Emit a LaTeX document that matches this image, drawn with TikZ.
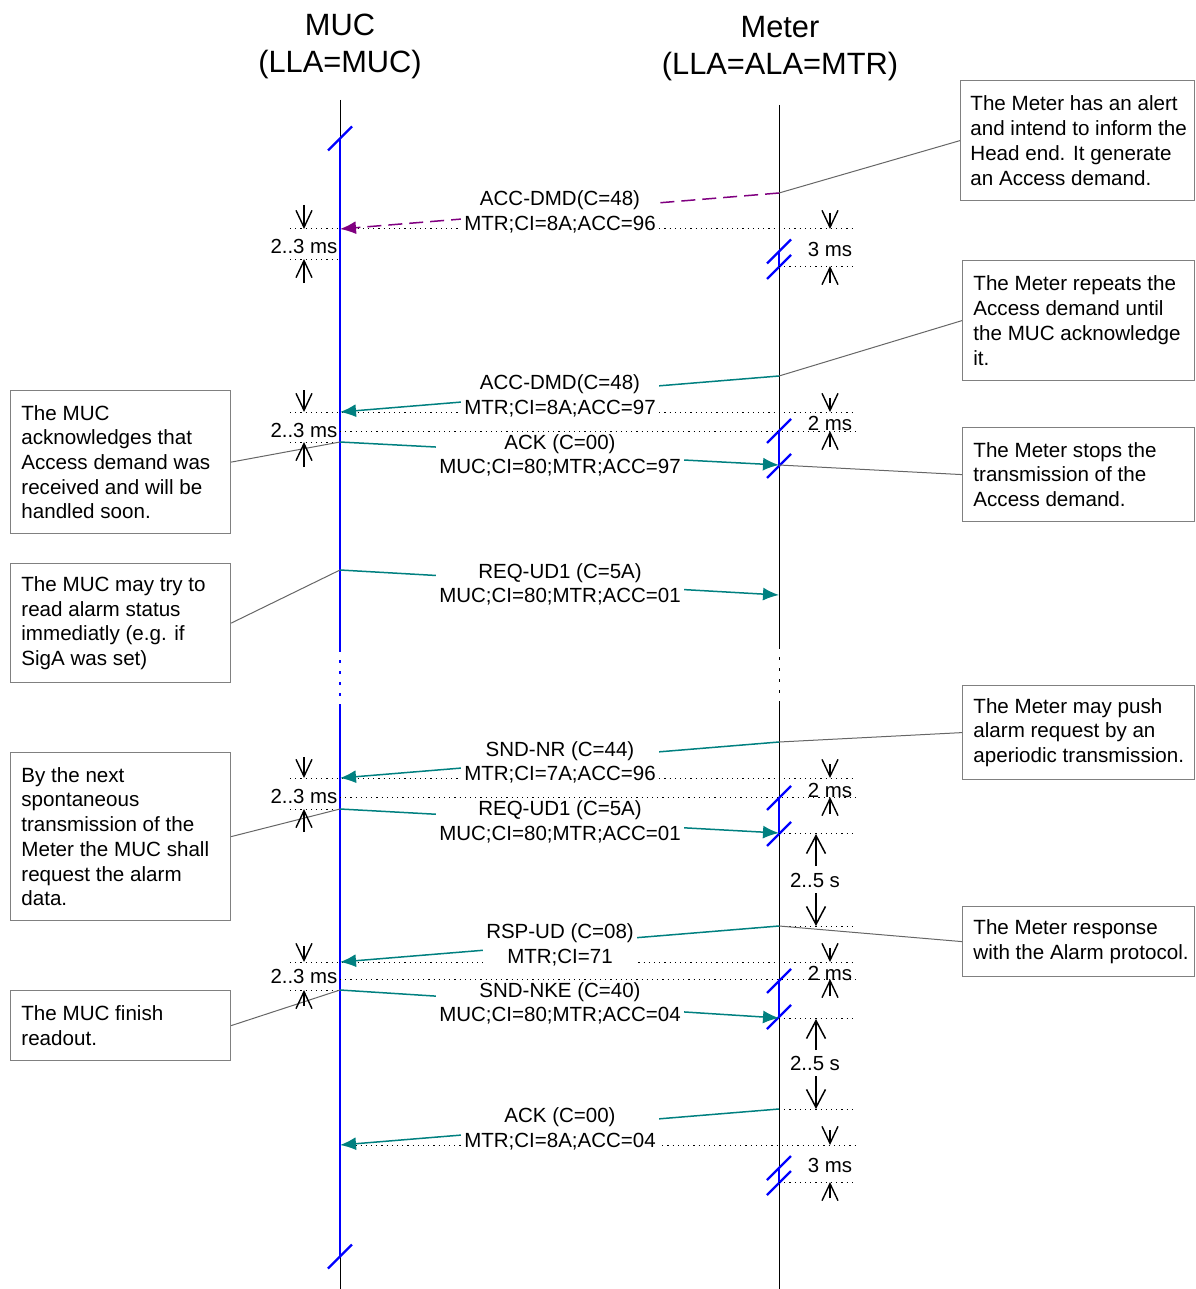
\documentclass[tikz,border=0pt]{standalone}
\usepackage{fontspec}
\setmainfont{Liberation Sans}
\usetikzlibrary{arrows.meta}
\definecolor{tealc}{RGB}{0,128,128}
\definecolor{purpc}{RGB}{128,0,128}
\definecolor{lblue}{RGB}{0,0,255}
\definecolor{notegray}{RGB}{128,128,128}
\begin{document}
\begin{tikzpicture}[x=0.5pt,y=-0.5pt,
 life/.style={line width=0.5pt, black},
 active/.style={line width=1.1pt, lblue},
 slashline/.style={line width=1.1pt, lblue},
 msg/.style={line width=0.75pt, tealc, -{Latex[length=8pt,width=6.5pt]}},
 dmsg/.style={line width=0.75pt, purpc, dash pattern=on 7pt off 3.5pt, -{Latex[length=8pt,width=6.5pt]}},
 lab/.style={fill=white, align=center, inner xsep=1.5pt, inner ysep=1pt, font=\fontsize{10.25}{12.2}\selectfont},
 guide/.style={line width=0.5pt, dash pattern=on 0.6pt off 2pt},
 dimarrow/.style={line width=0.7pt, -{Straight Barb[length=8.5pt,width=8pt]}},
 bigdim/.style={line width=0.75pt, -{Straight Barb[length=9pt,width=9.5pt]}},
 dimlab/.style={font=\fontsize{10.2}{12}\selectfont, inner sep=0.5pt},
 notebox/.style={draw=notegray, line width=0.6pt, fill=white, inner sep=0pt, anchor=north west},
 notetext/.style={align=left, font=\fontsize{10.3}{12.35}\selectfont, inner sep=0pt, anchor=west},
 noteline/.style={line width=0.5pt, black!60},
 titlenode/.style={align=center, font=\fontsize{15.4}{18.5}\selectfont}
]
\useasboundingbox (0,0) rectangle (1195,1289);

% titles
\node[titlenode] (tmuc) at (340,46.5) {MUC\\(LLA=MUC)};
\node[titlenode] (tmeter) at (780,49) {Meter\\(LLA=ALA=MTR)};

% lifelines
\coordinate (mucA) at (340,100);
\coordinate (mucB) at (340,139);
\coordinate (mucC) at (340,652);
\coordinate (mucD) at (340,706);
\coordinate (mucE) at (340,1257);
\coordinate (mucF) at (340,1289);
\draw[life] (mucA) -- (mucB);
\draw[life] (mucE) -- (mucF);
\draw[active] (mucB) -- (mucC);
\draw[active, dash pattern=on 1.5pt off 4pt, dash phase=-4pt] (mucC) -- (mucD);
\draw[active] (mucD) -- (mucE);

\coordinate (mtrA) at (779,105);
\coordinate (mtrB) at (779,649);
\coordinate (mtrC) at (779,703);
\coordinate (mtrD) at (779,1289);
\draw[life] (mtrA) -- (mtrB);
\draw[life, dash pattern=on 1.5pt off 4pt, dash phase=-4pt] (mtrB) -- (mtrC);
\draw[life] (mtrC) -- (mtrD);

% blue active segments on Meter
\draw[active] (779,252) -- (779,267);
\draw[active] (779,431) -- (779,465);
\draw[active] (779,797) -- (779,833);
\draw[active] (779,979) -- (779,1018);
\draw[active] (779,1168) -- (779,1182);

% slashes
\foreach \x/\y in {340/138.5, 340/1256.5, 779/251.5, 779/267, 779/431, 779/466, 779/798, 779/834, 779/981, 779/1017, 779/1168, 779/1183}
  \draw[slashline] ({\x-12},{\y+12}) -- ({\x+12},{\y-12});

% guide (dotted) lines
\draw[guide] (290,229) -- (855,229);
\draw[guide] (290,259) -- (340,259);
\draw[guide] (779,266) -- (855,266);

\draw[guide] (290,412) -- (855,412);
\draw[guide] (340,431) -- (855,431);
\draw[guide] (290,442) -- (340,442);

\draw[guide] (290,778) -- (855,778);
\draw[guide] (340,797) -- (855,797);
\draw[guide] (290,809) -- (340,809);
\draw[guide] (779,833) -- (855,833);
\draw[guide] (779,926) -- (855,926);

\draw[guide] (290,962) -- (855,962);
\draw[guide] (340,979) -- (855,979);
\draw[guide] (290,990) -- (340,990);
\draw[guide] (779,1018) -- (855,1018);
\draw[guide] (779,1109) -- (855,1109);

\draw[guide] (345,1145) -- (855,1145);
\draw[guide] (779,1182) -- (855,1182);

% message end points
\coordinate (m1s) at (779,193);  \coordinate (m1e) at (340,229);
\coordinate (m2s) at (779,376);  \coordinate (m2e) at (340,412);
\coordinate (m3s) at (340,442);  \coordinate (m3e) at (779,465);
\coordinate (m4s) at (340,570);  \coordinate (m4e) at (779,595);
\coordinate (m5s) at (779,742);  \coordinate (m5e) at (340,778);
\coordinate (m6s) at (340,809);  \coordinate (m6e) at (779,833);
\coordinate (m7s) at (779,926);  \coordinate (m7e) at (340,962);
\coordinate (m8s) at (340,990);  \coordinate (m8e) at (779,1018);
\coordinate (m9s) at (779,1109); \coordinate (m9e) at (340,1145);

% note boxes
\node[notebox, minimum width=117pt, minimum height=60pt] (n1) at (960,80) {};
\node[notetext] at ([xshift=5pt]n1.west) {The Meter has an alert\\and intend to inform the\\Head end. It generate\\an Access demand.};
\node[notebox, minimum width=116pt, minimum height=60pt] (n2) at (962,260) {};
\node[notetext] at ([xshift=5.5pt]n2.west) {The Meter repeats the\\Access demand until\\the MUC acknowledge\\it.};
\node[notebox, minimum width=116pt, minimum height=47pt] (n3) at (962,427) {};
\node[notetext] at ([xshift=5.5pt]n3.west) {The Meter stops the\\transmission of the\\Access demand.};
\node[notebox, minimum width=116pt, minimum height=47pt] (n4) at (962,685) {};
\node[notetext] at ([xshift=5.5pt]n4.west) {The Meter may push\\alarm request by an\\aperiodic transmission.};
\node[notebox, minimum width=116pt, minimum height=35pt] (n5) at (962,906) {};
\node[notetext] at ([xshift=5.5pt]n5.west) {The Meter response\\with the Alarm protocol.};

\node[notebox, minimum width=110pt, minimum height=71.5pt] (L1) at (10,390) {};
\node[notetext] at ([xshift=5.5pt]L1.west) {The MUC\\acknowledges that\\Access demand was\\received and will be\\handled soon.};
\node[notebox, minimum width=110pt, minimum height=59.5pt] (L2) at (10,563) {};
\node[notetext] at ([xshift=5.5pt]L2.west) {The MUC may try to\\read alarm status\\immediatly (e.g. if\\SigA was set)};
\node[notebox, minimum width=110pt, minimum height=84pt] (L3) at (10,752) {};
\node[notetext] at ([xshift=5.5pt]L3.west) {By the next\\spontaneous\\transmission of the\\Meter the MUC shall\\request the alarm\\data.};
\node[notebox, minimum width=110pt, minimum height=35pt] (L4) at (10,990) {};
\node[notetext] at ([xshift=5.5pt]L4.west) {The MUC finish\\readout.};

% note connectors
\draw[noteline] (m1s) -- (n1.west);
\draw[noteline] (m2s) -- (n2.west);
\draw[noteline] (m3e) -- (n3.west);
\draw[noteline] (m5s) -- (n4.west);
\draw[noteline] (m7s) -- (n5.west);
\draw[noteline] (m3s) -- (L1.east);
\draw[noteline] (m4s) -- (L2.east);
\draw[noteline] (m6s) -- (L3.east);
\draw[noteline] (m8s) -- (L4.east);

% messages
\draw[dmsg] (m1s) -- (m1e);
\draw[msg] (m2s) -- (m2e);
\draw[msg] (m3s) -- (m3e);
\draw[msg] (m4s) -- (m4e);
\draw[msg] (m5s) -- (m5e);
\draw[msg] (m6s) -- (m6e);
\draw[msg] (m7s) -- (m7e);
\draw[msg] (m8s) -- (m8e);
\draw[msg] (m9s) -- (m9e);

% message labels
\node[lab] (l1) at (560,212) {ACC-DMD(C=48)\\MTR;CI=8A;ACC=96};
\node[lab] (l2) at (560,396) {ACC-DMD(C=48)\\MTR;CI=8A;ACC=97};
\node[lab] (l3) at (560,455.5) {ACK (C=00)\\MUC;CI=80;MTR;ACC=97};
\node[lab] (l4) at (560,584.5) {REQ-UD1 (C=5A)\\MUC;CI=80;MTR;ACC=01};
\node[lab] (l5) at (560,762.5) {SND-NR (C=44)\\MTR;CI=7A;ACC=96};
\node[lab] (l6) at (560,822) {REQ-UD1 (C=5A)\\MUC;CI=80;MTR;ACC=01};
\node[lab] (l7) at (560,945) {RSP-UD (C=08)\\MTR;CI=71};
\node[lab] (l8) at (560,1003.5) {SND-NKE (C=40)\\MUC;CI=80;MTR;ACC=04};
\node[lab] (l9) at (560,1129) {ACK (C=00)\\MTR;CI=8A;ACC=04};

% left dimensions 2..3 ms
\foreach \ta/\tb/\ly/\ba/\bb in {205/229/246/283/259, 390/412/430/467/442, 757/778/796/832/809, 946/962/976/1006/990}{
  \draw[dimarrow] (304,\ta) -- (304,\tb);
  \draw[dimarrow] (304,\ba) -- (304,\bb);
  \node[dimlab] at (304,\ly) {2..3 ms};
}
% right dimensions
\draw[dimarrow] (830,213) -- (830,229);
\draw[dimarrow] (830,283) -- (830,266);
\node[dimlab] at (830,249) {3 ms};

\draw[dimarrow] (830,398) -- (830,412);
\draw[dimarrow] (830,447) -- (830,431);
\node[dimlab] at (830,423) {2 ms};

\draw[dimarrow] (830,764) -- (830,778);
\draw[dimarrow] (830,814) -- (830,797);
\node[dimlab] at (830,790) {2 ms};

\draw[dimarrow] (830,948) -- (830,962);
\draw[dimarrow] (830,996) -- (830,979);
\node[dimlab] at (830,973) {2 ms};

\draw[dimarrow] (830,1130) -- (830,1145);
\draw[dimarrow] (830,1198) -- (830,1182);
\node[dimlab] at (830,1165) {3 ms};

% 2..5 s dimensions
\draw[bigdim] (816,866) -- (816,834);
\draw[bigdim] (816,893) -- (816,926);
\node[dimlab] at (815,880) {2..5 s};
\draw[bigdim] (816,1050) -- (816,1019);
\draw[bigdim] (816,1076) -- (816,1109);
\node[dimlab] at (815,1063) {2..5 s};
\end{tikzpicture}
\end{document}
